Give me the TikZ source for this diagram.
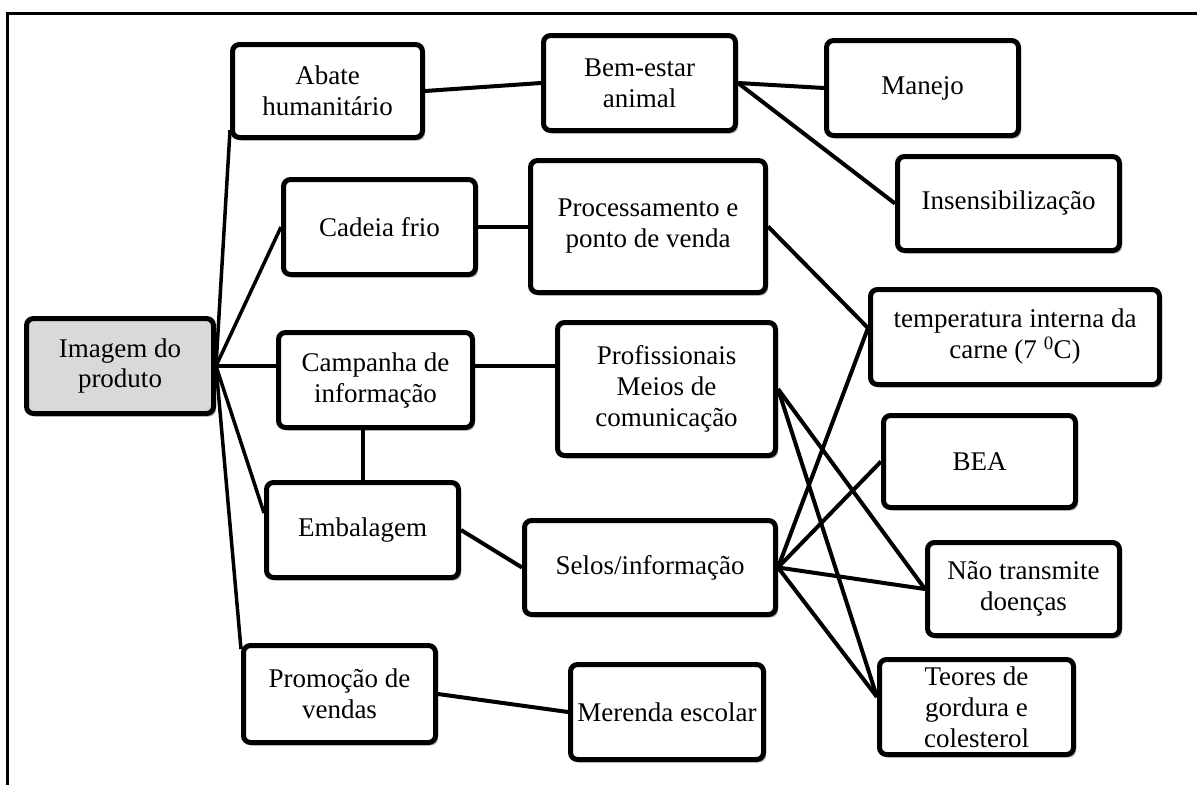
\documentclass[tikz,border=0pt]{standalone}
\usepackage{fontspec}
\setmainfont{Liberation Serif}
\usetikzlibrary{calc,shadows,backgrounds}
\definecolor{imggray}{RGB}{217,217,217}
\begin{document}
\begin{tikzpicture}[x=1pt,y=-1pt,
  box/.style={draw=black, line width=5pt, rounded corners=7pt, fill=white,
    align=center, inner sep=2pt, font=\fontsize{27}{31}\selectfont,
    drop shadow={shadow xshift=2.5pt, shadow yshift=-3pt, opacity=0.3, fill=black}},
  link/.style={line width=4pt, draw=black},
  frameline/.style={line width=3pt, draw=black}
]
\useasboundingbox (0,0) rectangle (1197,785);
\draw[frameline] (7,785) -- (7,13) -- (1197,13);

% column 1
\node[box, fill=imggray, minimum width=187pt, minimum height=95pt] (img) at (120,366) {Imagem do\\produto};
% column 2
\node[box, minimum width=190pt, minimum height=93pt] (abate) at (327.5,91) {Abate\\humanitário};
\node[box, minimum width=192pt, minimum height=95pt] (cadeia) at (379.5,227) {Cadeia frio};
\node[box, minimum width=194pt, minimum height=95pt] (camp) at (375.5,380) {Campanha de\\informação};
\node[box, minimum width=192pt, minimum height=95pt] (emb) at (362.5,530) {Embalagem};
\node[box, minimum width=192pt, minimum height=97pt] (promo) at (339.5,694) {Promoção de\\vendas};
% column 3
\node[box, minimum width=192pt, minimum height=95pt] (bem) at (639.5,83) {Bem-estar\\animal};
\node[box, minimum width=235pt, minimum height=132pt] (proc) at (648,226.5) {Processamento e\\ponto de venda};
\node[box, minimum width=218pt, minimum height=133pt] (prof) at (666.5,389) {Profissionais\\Meios de\\comunicação};
\node[box, minimum width=251pt, minimum height=94pt] (selos) at (650,567.5) {Selos/informação};
\node[box, minimum width=193pt, minimum height=95pt] (merenda) at (667,712) {Merenda escolar};
% column 4
\node[box, minimum width=192pt, minimum height=95pt] (manejo) at (922.5,88) {Manejo};
\node[box, minimum width=222pt, minimum height=94pt] (insens) at (1008.5,203.5) {Insensibilização};
\node[box, minimum width=289pt, minimum height=95pt] (temp) at (1015,337) {temperatura interna da\\carne (7 \textsuperscript{0}C)};
\node[box, minimum width=192pt, minimum height=92pt] (bea) at (979.5,461.5) {BEA};
\node[box, minimum width=192pt, minimum height=93pt] (nao) at (1023.5,589) {Não transmite\\doenças};
\node[box, minimum width=194pt, minimum height=95pt] (teores) at (976.5,707) {Teores de\\gordura e\\colesterol};

\coordinate (tempin) at ($(temp.north west)!0.41!(temp.south west)$);
\coordinate (teoin) at ($(teores.north west)!0.4!(teores.south west)$);

\begin{scope}[on background layer]
  \draw[link, line width=3.5pt] (img.east) -- ($(abate.north west)!0.9!(abate.south west)$);
  \draw[link, line width=3.5pt] (img.east) -- (cadeia.west);
  \draw[link, line width=3.5pt] (img.east) -- (img.east -| camp.west);
  \draw[link, line width=3.5pt] (img.east) -- ($(emb.north west)!0.33!(emb.south west)$);
  \draw[link, line width=3.5pt] (img.east) -- ($(promo.north west)!0.06!(promo.south west)$);
  \draw[link] (abate.east) -- (bem.west);
  \draw[link] (cadeia.east) -- (cadeia.east -| proc.west);
  \draw[link] (camp.east |- img.east) -- (img.east -| prof.west);
  \draw[link] (emb.north) -- (emb.north |- camp.south);
  \draw[link] (emb.east) -- (selos.west);
  \draw[link] (promo.east) -- (merenda.west);
  \draw[link] (bem.east) -- (manejo.west);
  \draw[link] (bem.east) -- (insens.west);
  \draw[link] (proc.east) -- (tempin);
  \draw[link] (selos.east) -- (tempin);
  \draw[link] (selos.east) -- (bea.west);
  \draw[link] (selos.east) -- (nao.west);
  \draw[link] (selos.east) -- (teoin);
  \draw[link] (prof.east) -- (nao.west);
  \draw[link] (prof.east) -- (teoin);
\end{scope}
\end{tikzpicture}
\end{document}
